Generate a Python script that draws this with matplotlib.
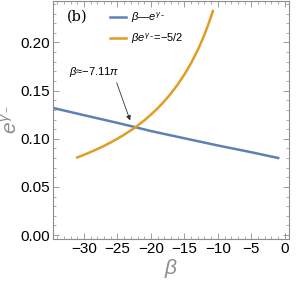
import numpy as np
import matplotlib.pyplot as plt
from matplotlib.ticker import MultipleLocator

plt.rcParams['font.family'] = ['Liberation Sans', 'DejaVu Sans']
plt.rcParams['mathtext.fontset'] = 'custom'
plt.rcParams['mathtext.it'] = 'Liberation Sans:italic'
plt.rcParams['mathtext.rm'] = 'Liberation Sans'

# values
beta_blue = [-34.6, -30, -25, -22.3, -20, -15, -10, -5, -1]
ey_blue = [0.132, 0.1245, 0.1165, 0.112, 0.108, 0.1005, 0.093, 0.086, 0.080]

beta_orange = [-31, -30, -29, -28, -27, -26, -25, -24, -23, -22.3, -21, -20, -19, -18,
               -17, -16, -15, -14, -13, -12.5, -12, -11.5, -11, -10.75]
ey_orange = [0.0806, 0.0833, 0.0862, 0.0893, 0.0926, 0.0962, 0.100, 0.1042, 0.1087,
             0.112, 0.119, 0.125, 0.1316, 0.1389, 0.1471, 0.1563, 0.1667, 0.1786,
             0.1923, 0.200, 0.2083, 0.2174, 0.2273, 0.2326]

blue = '#5E81B5'
orange = '#E19C24'
grey = '#8c8c8c'

fig = plt.figure(figsize=(3.0, 2.89), dpi=100)
ax = fig.add_axes([0.177, 0.173, 0.786, 0.825])

ax.plot(beta_blue, ey_blue, color=blue, lw=1.8, label=r'$\beta$—$e^{\gamma_-}$')
ax.plot(beta_orange, ey_orange, color=orange, lw=1.8, label=r'$\beta e^{\gamma_-}$=−5/2')

ax.set_xlim(-34.6, 0.6)
ax.set_ylim(-0.0041, 0.2435)
ax.xaxis.set_major_locator(MultipleLocator(5))
ax.xaxis.set_minor_locator(MultipleLocator(1))
ax.yaxis.set_major_locator(MultipleLocator(0.05))
ax.yaxis.set_minor_locator(MultipleLocator(0.01))
ax.yaxis.set_major_formatter(plt.FormatStrFormatter('%.2f'))
ax.tick_params(which='both', direction='in', top=True, right=True, color=grey,
               labelsize=11, pad=2)
ax.tick_params(which='major', length=4, width=0.6)
ax.tick_params(which='minor', length=2, width=0.5)
for s in ax.spines.values():
    s.set_color(grey)
    s.set_linewidth(0.8)

ax.set_xlabel(r'$\beta$', color=grey, fontsize=15, labelpad=1)
ax.set_ylabel(r'$e^{\gamma_-}$', color=grey, fontsize=15, labelpad=0)

ax.text(-32.5, 0.227, '(b)', family='DejaVu Serif', fontsize=10.5, va='center')
ax.legend(loc='upper left', bbox_to_anchor=(0.2, 1.0), frameon=False, fontsize=8,
          handlelength=1.4, handletextpad=0.5, labelspacing=0.6)

ax.text(-32.2, 0.169, r'$\beta$≈−7.11$\pi$', fontsize=8, va='center')
ax.annotate('', xy=(-23.1, 0.119), xytext=(-25.1, 0.158),
            arrowprops=dict(arrowstyle='-|>', color='#333333', lw=0.6,
                            mutation_scale=7, shrinkA=0, shrinkB=0))

fig.savefig('out.png', dpi=100)
